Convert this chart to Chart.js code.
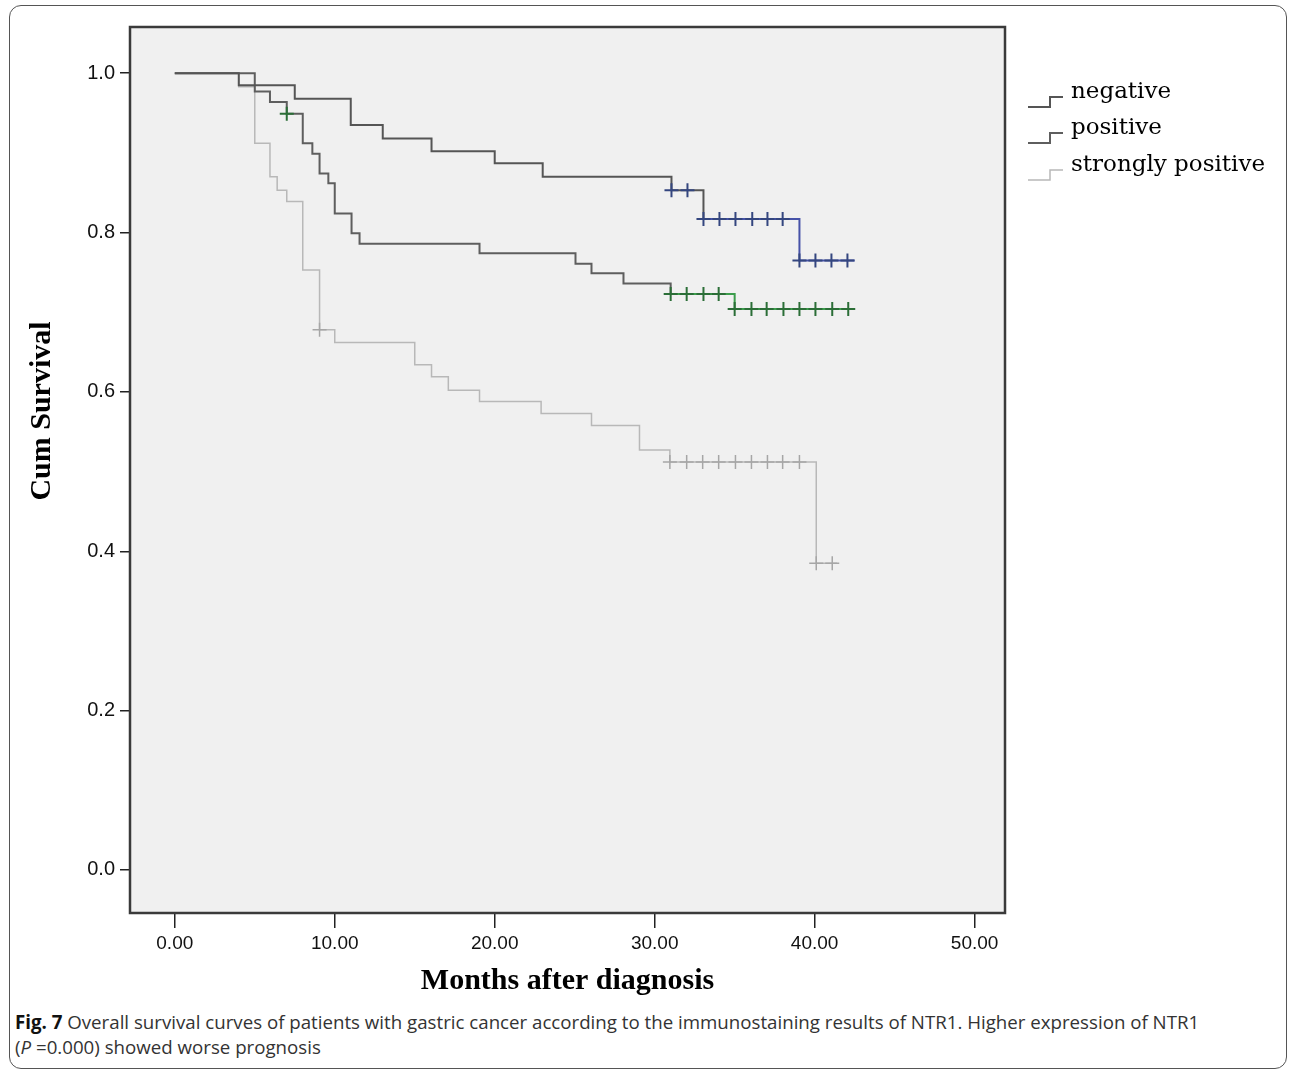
<!DOCTYPE html>
<html>
<head>
<meta charset="utf-8">
<script src="https://cdn.jsdelivr.net/npm/chart.js@4.4.1/dist/chart.umd.min.js"></script>
<style>
  body { margin: 0; background: #fff; width: 1292px; height: 1070px; overflow: hidden; position: relative; }
  #frame { position: absolute; left: 9px; top: 5px; width: 1278px; height: 1064px; border: 1.5px solid #555; border-radius: 12px; box-sizing: border-box; }
  #wrap { position: absolute; left: 0; top: 0; width: 1292px; height: 1000px; }
  #caption { position: absolute; left: 15px; top: 1009px; font-family: 'Open Sans', sans-serif; font-size: 18.7px; line-height: 25px; color: #333; white-space: nowrap; }
  #caption b { color: #111; }
</style>
</head>
<body>
<div id="frame"></div>
<div id="wrap"><canvas id="km" width="1292" height="1000"></canvas></div>
<div id="caption"><b>Fig. 7</b> Overall survival curves of patients with gastric cancer according to the immunostaining results of NTR1. Higher expression of NTR1<br>(<i>P</i> =0.000) showed worse prognosis</div>

<script>
// datos (meses, supervivencia acumulada)
const negTime = [0, 4.0, 7.5, 11.0, 13.0, 16.05, 20.0, 23.0, 31.05, 33.05, 39.05, 42.5];
const negSurv = [1.0, 0.985, 0.968, 0.935, 0.918, 0.902, 0.887, 0.870, 0.853, 0.817, 0.765, 0.765];
const negCensT = [31.05, 32.05, 33.05, 34.05, 35.05, 36.1, 37.05, 38.0, 39.05, 40.05, 41.05, 42.05];
const negCensS = [0.853, 0.853, 0.817, 0.817, 0.817, 0.817, 0.817, 0.817, 0.765, 0.765, 0.765, 0.765];

const posTime = [0, 5.0, 5.95, 7.0, 8.0, 8.6, 9.05, 9.6, 10.0, 11.05, 11.55, 19.05, 25.05, 26.05, 28.05, 31.0, 35.0, 42.5];
const posSurv = [1.0, 0.977, 0.964, 0.949, 0.912, 0.899, 0.874, 0.862, 0.824, 0.799, 0.786, 0.774, 0.761, 0.749, 0.736, 0.723, 0.704, 0.704];
const posCensT = [7.0, 31.0, 32.0, 33.05, 34.0, 35.0, 36.05, 37.0, 38.05, 39.05, 40.05, 41.1, 42.1];
const posCensS = [0.949, 0.723, 0.723, 0.723, 0.723, 0.704, 0.704, 0.704, 0.704, 0.704, 0.704, 0.704, 0.704];

const strTime = [0, 4.0, 5.0, 5.95, 6.4, 7.0, 8.0, 9.05, 10.0, 15.0, 16.05, 17.1, 19.05, 22.9, 26.05, 29.05, 30.95, 40.1, 41.4];
const strSurv = [1.0, 0.983, 0.912, 0.870, 0.853, 0.839, 0.753, 0.678, 0.662, 0.634, 0.619, 0.602, 0.588, 0.573, 0.558, 0.527, 0.512, 0.385, 0.385];
const strCensT = [9.05, 30.95, 32.0, 33.0, 34.0, 35.05, 36.05, 37.05, 38.0, 39.05, 40.1, 41.1];
const strCensS = [0.678, 0.512, 0.512, 0.512, 0.512, 0.512, 0.512, 0.512, 0.512, 0.512, 0.385, 0.385];

const groups = ['negative', 'positive', 'strongly positive'];
const groupColors = ['#555555', '#5e5e5e', '#b8b8b8'];

const toPts = (t, s) => t.map((x, i) => ({ x: x, y: s[i] }));

// fondo gris y marco del area de datos
const marcoPlugin = {
  id: 'marco',
  beforeDatasetsDraw(chart) {
    const { ctx, chartArea: a } = chart;
    ctx.save();
    ctx.fillStyle = '#f0f0f0';
    ctx.fillRect(a.left, a.top, a.right - a.left, a.bottom - a.top);
    ctx.restore();
  },
  afterDraw(chart) {
    const { ctx, chartArea: a } = chart;
    ctx.save();
    ctx.strokeStyle = '#3a3a3a';
    ctx.lineWidth = 2.5;
    ctx.strokeRect(a.left, a.top, a.right - a.left, a.bottom - a.top);

    // titulo del eje y
    ctx.translate(42, 411);
    ctx.rotate(-Math.PI / 2);
    ctx.font = 'bold 30px "Liberation Serif"';
    ctx.fillStyle = '#000';
    ctx.textAlign = 'center';
    ctx.textBaseline = 'middle';
    ctx.fillText('Cum Survival', 0, 0);
    ctx.restore();
  }
};

// leyenda con iconos escalonados
const leyendaPlugin = {
  id: 'leyenda',
  afterDraw(chart) {
    const { ctx } = chart;
    const filas = [92, 128, 165];
    ctx.save();
    groups.forEach((g, i) => {
      const y = filas[i];
      ctx.strokeStyle = groupColors[i];
      ctx.lineWidth = i === 2 ? 1.5 : 2;
      ctx.beginPath();
      ctx.moveTo(1028, y + 15);
      ctx.lineTo(1050, y + 15);
      ctx.lineTo(1050, y + 5);
      ctx.lineTo(1063, y + 5);
      ctx.stroke();
      ctx.font = '23px "DejaVu Serif"';
      ctx.fillStyle = '#000';
      ctx.textBaseline = 'middle';
      ctx.fillText(g, 1071, y);
    });
    ctx.restore();
  }
};

const lineaBase = { stepped: true, pointRadius: 0, tension: 0, fill: false, order: 1 };
const censBase = { showLine: false, pointStyle: 'cross', pointRadius: 7, pointHoverRadius: 7, order: 0 };

new Chart(document.getElementById('km'), {
  type: 'line',
  data: {
    datasets: [
      { ...lineaBase, label: groups[0], data: toPts(negTime, negSurv), borderColor: groupColors[0], borderWidth: 2,
        segment: { borderColor: c => c.p0.parsed.x >= 33 ? '#4652a8' : undefined } },
      { ...lineaBase, label: groups[1], data: toPts(posTime, posSurv), borderColor: groupColors[1], borderWidth: 2,
        segment: { borderColor: c => c.p0.parsed.x >= 30.9 ? '#3c9d4c' : undefined } },
      { ...lineaBase, label: groups[2], data: toPts(strTime, strSurv), borderColor: groupColors[2], borderWidth: 1.5 },
      { ...censBase, label: 'neg cens', data: toPts(negCensT, negCensS), borderColor: '#34467f', pointBorderWidth: 2 },
      { ...censBase, label: 'pos cens', data: toPts(posCensT, posCensS), borderColor: '#2b6e37', pointBorderWidth: 2 },
      { ...censBase, label: 'str cens', data: toPts(strCensT, strCensS), borderColor: '#a6a6a6', pointBorderWidth: 1.5 }
    ]
  },
  options: {
    responsive: false,
    animation: false,
    devicePixelRatio: 1,
    layout: { padding: { left: 0, right: 287, top: 27, bottom: 0 } },
    plugins: { legend: { display: false }, tooltip: { enabled: false } },
    scales: {
      x: {
        type: 'linear', min: -2.8, max: 51.9,
        afterFit: s => { s.height = 87; },
        ticks: { stepSize: 10, includeBounds: false, autoSkip: false, maxRotation: 0, padding: 4,
          callback: v => Number(v).toFixed(2), color: '#111', font: { family: 'Liberation Sans', size: 19 } },
        grid: { drawOnChartArea: false, drawTicks: true, tickLength: 15, color: '#222', lineWidth: 1.5 },
        border: { display: false },
        title: { display: true, text: 'Months after diagnosis', color: '#000', padding: { top: 0, bottom: 1 },
          font: { family: 'Liberation Serif', size: 30, weight: 'bold' } }
      },
      y: {
        type: 'linear', min: -0.054, max: 1.058,
        afterFit: s => { s.width = 130; },
        ticks: { stepSize: 0.2, includeBounds: false, padding: 5,
          callback: v => Number(v).toFixed(1), color: '#111', font: { family: 'Liberation Sans', size: 20 } },
        grid: { drawOnChartArea: false, drawTicks: true, tickLength: 10, color: '#222', lineWidth: 1.5 },
        border: { display: false }
      }
    }
  },
  plugins: [marcoPlugin, leyendaPlugin]
});
</script>
</body>
</html>
